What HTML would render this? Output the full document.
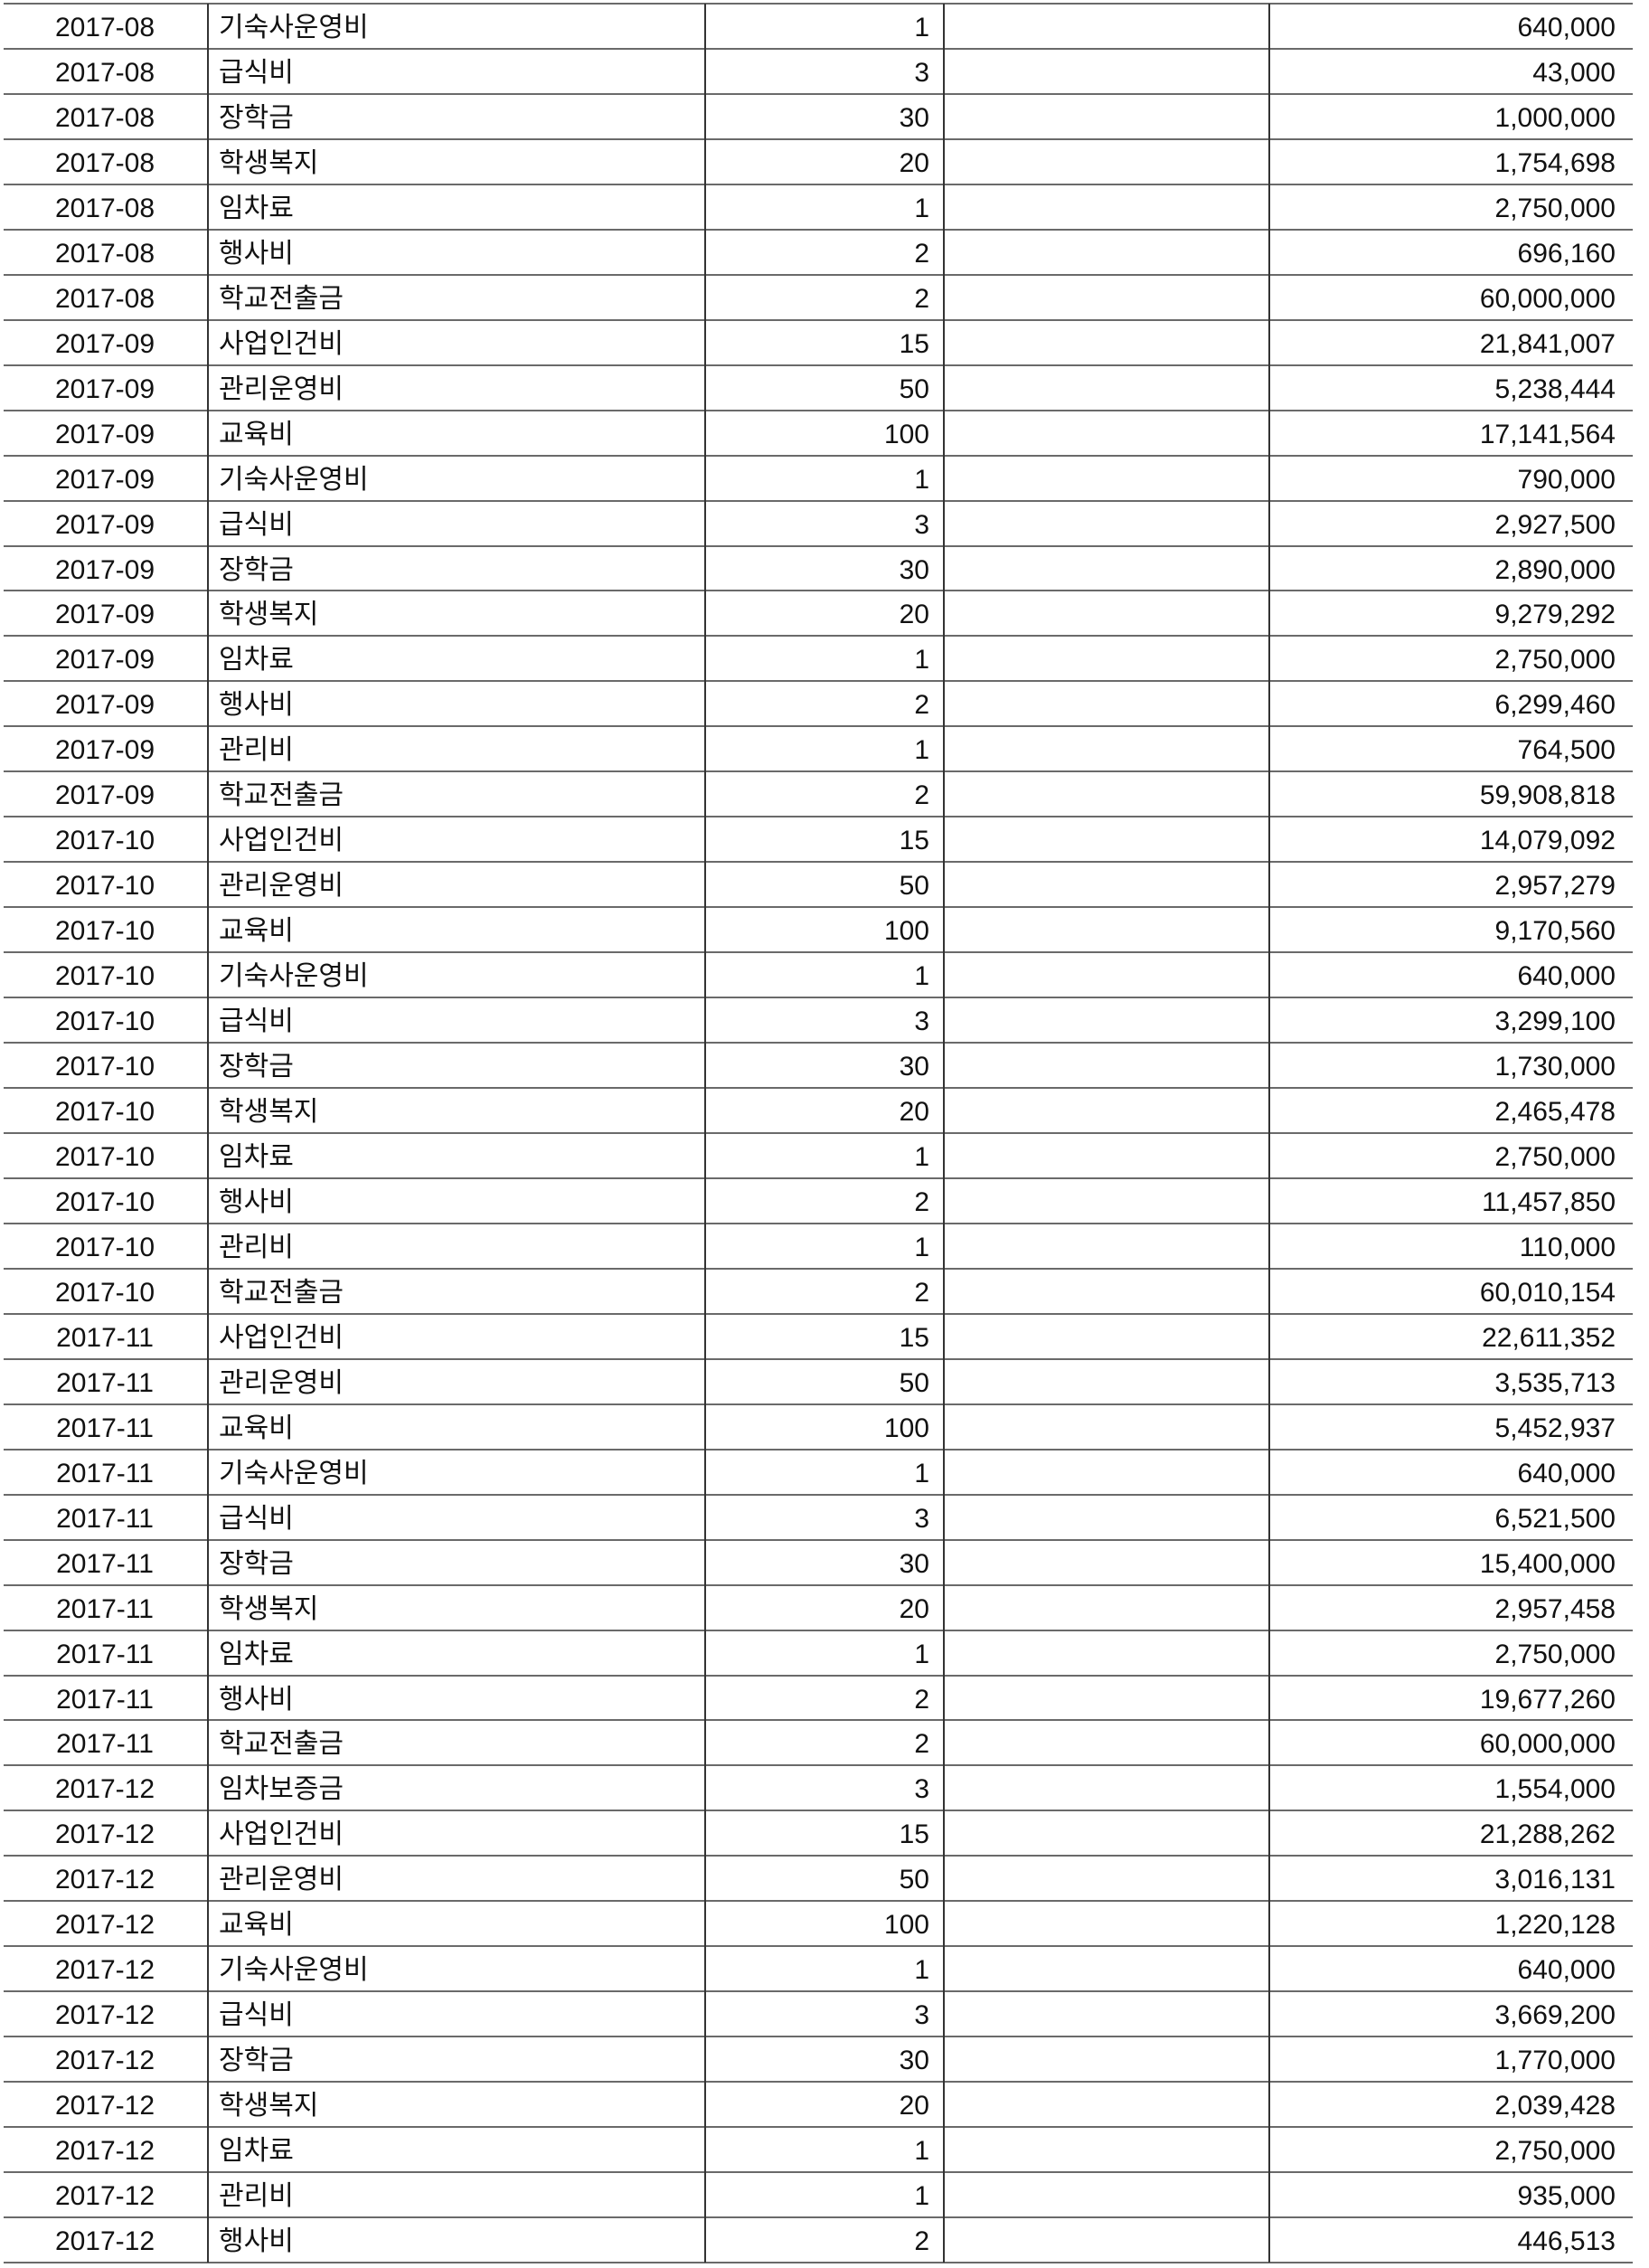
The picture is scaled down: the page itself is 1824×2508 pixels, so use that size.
<!DOCTYPE html>
<html><head><meta charset="utf-8">
<style>
html,body{margin:0;padding:0;background:#fff;}
body{width:1824px;height:2508px;position:relative;overflow:hidden;font-family:"Liberation Sans","Noto Sans CJK KR","NanumGothic",sans-serif;color:#111;}
.hl{position:absolute;left:4px;width:1802px;height:2px;background:#6a6a6a;}
.vl{position:absolute;width:2px;background:#333;top:4px;height:2498px;}
.c{position:absolute;height:50px;line-height:54px;font-size:30px;white-space:nowrap;}
</style></head><body>
<script>
const months=["2017-08","2017-08","2017-08","2017-08","2017-08","2017-08","2017-08","2017-09","2017-09","2017-09","2017-09","2017-09","2017-09","2017-09","2017-09","2017-09","2017-09","2017-09","2017-10","2017-10","2017-10","2017-10","2017-10","2017-10","2017-10","2017-10","2017-10","2017-10","2017-10","2017-11","2017-11","2017-11","2017-11","2017-11","2017-11","2017-11","2017-11","2017-11","2017-11","2017-12","2017-12","2017-12","2017-12","2017-12","2017-12","2017-12","2017-12","2017-12","2017-12","2017-12"];
const items=["기숙사운영비","급식비","장학금","학생복지","임차료","행사비","학교전출금","사업인건비","관리운영비","교육비","기숙사운영비","급식비","장학금","학생복지","임차료","행사비","관리비","학교전출금","사업인건비","관리운영비","교육비","기숙사운영비","급식비","장학금","학생복지","임차료","행사비","관리비","학교전출금","사업인건비","관리운영비","교육비","기숙사운영비","급식비","장학금","학생복지","임차료","행사비","학교전출금","임차보증금","사업인건비","관리운영비","교육비","기숙사운영비","급식비","장학금","학생복지","임차료","관리비","행사비"];
const counts=[1,3,30,20,1,2,2,15,50,100,1,3,30,20,1,2,1,2,15,50,100,1,3,30,20,1,2,1,2,15,50,100,1,3,30,20,1,2,2,3,15,50,100,1,3,30,20,1,1,2];
const amounts=["640,000","43,000","1,000,000","1,754,698","2,750,000","696,160","60,000,000","21,841,007","5,238,444","17,141,564","790,000","2,927,500","2,890,000","9,279,292","2,750,000","6,299,460","764,500","59,908,818","14,079,092","2,957,279","9,170,560","640,000","3,299,100","1,730,000","2,465,478","2,750,000","11,457,850","110,000","60,010,154","22,611,352","3,535,713","5,452,937","640,000","6,521,500","15,400,000","2,957,458","2,750,000","19,677,260","60,000,000","1,554,000","21,288,262","3,016,131","1,220,128","640,000","3,669,200","1,770,000","2,039,428","2,750,000","935,000","446,513"];
const top0=4, rh=49.96;
const b=document.body;
function mk(cls,name,css,txt){
  const d=document.createElement('div');
  d.className=cls;
  
  
  d.style.cssText=css;
  if(txt!==undefined) d.textContent=txt;
  b.appendChild(d);
  return d;
}
for(let i=0;i<=months.length;i++){
  mk('hl','row-line','top:'+(top0+i*rh-1)+'px');
}
[229,779,1043,1403].forEach(x=>{
  mk('vl','column-line','left:'+x+'px');
});
for(let i=0;i<months.length;i++){
  const y=top0+i*rh;
  mk('c','month-cell','top:'+y+'px;left:0;width:232px;text-align:center',months[i]);
  mk('c','item-cell','top:'+y+'px;left:242px',items[i]);
  mk('c','count-cell','top:'+y+'px;left:780px;width:248px;text-align:right',String(counts[i]));
  mk('c','amount-cell','top:'+y+'px;left:1404px;width:383px;text-align:right',amounts[i]);
}
</script>
</body></html>
